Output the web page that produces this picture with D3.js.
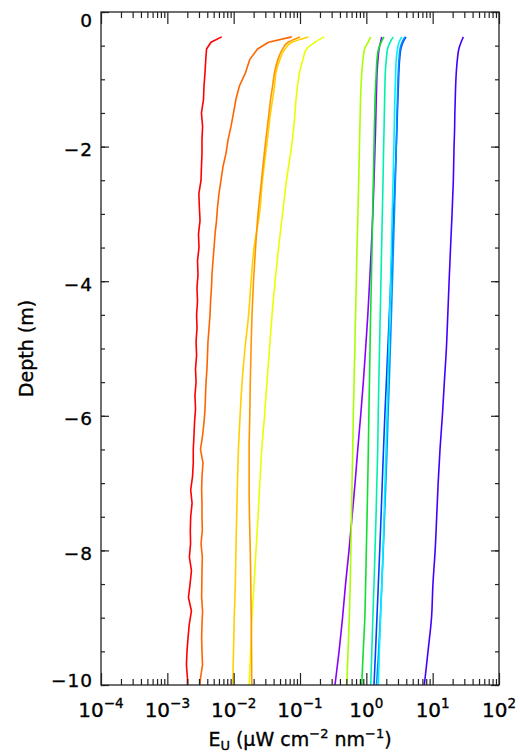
<!DOCTYPE html>
<html>
<head>
<meta charset="utf-8">
<script src="https://cdn.jsdelivr.net/npm/d3@7"></script>
<style>
  body { margin: 0; background: #fff; }
  svg text { font-family: "DejaVu Sans", sans-serif; fill: #000; stroke: #000; stroke-width: 0.35px; }
</style>
</head>
<body>
<div id="chart"></div>
<script>
// Depth grids (m)
const depthFine = [-0.37, -0.45, -0.55, -0.7, -0.9, -1.1, -1.3, -1.5, -1.7, -1.9,
  -2.1, -2.3, -2.5, -2.7, -2.9, -3.1, -3.3, -3.5, -3.7, -3.9,
  -4.1, -4.3, -4.5, -4.7, -4.9, -5.1, -5.3, -5.5, -5.7, -5.9,
  -6.1, -6.3, -6.5, -6.7, -6.9, -7.1, -7.3, -7.5, -7.7, -7.9,
  -8.1, -8.3, -8.5, -8.7, -8.9, -9.1, -9.3, -9.5, -9.7, -9.9, -10];
const depthCoarse = [-0.37, -0.45, -0.55, -0.7, -0.9, -1.1, -1.3, -1.5, -1.75, -2,
  -2.5, -3, -3.5, -4, -4.5, -5, -5.5, -6, -6.5, -7, -7.5, -8, -8.5, -9, -9.5, -10];

// Upwelling irradiance Eu per channel (uW cm-2 nm-1)
const euRed = [0.0066, 0.00455, 0.0039, 0.0038, 0.0037, 0.00357, 0.00351, 0.00327, 0.0034, 0.00333,
  0.00333, 0.00327, 0.00322, 0.00299, 0.00304, 0.00311, 0.00295, 0.003, 0.00285, 0.0029,
  0.0028, 0.00285, 0.00276, 0.0028, 0.00271, 0.00276, 0.00266, 0.00271, 0.00261, 0.00266,
  0.00257, 0.00252, 0.00246, 0.00246, 0.0024, 0.00225, 0.00236, 0.00225, 0.00222, 0.00224,
  0.00215, 0.00231, 0.0022, 0.00208, 0.00231, 0.00214, 0.00205, 0.00198, 0.00194, 0.00201, 0.00201];
const euOrangeRed = [0.075, 0.0335, 0.0229, 0.0176, 0.0151, 0.0122, 0.0108, 0.00995, 0.00912, 0.00822,
  0.00766, 0.0069, 0.00644, 0.00601, 0.00571, 0.00551, 0.00524, 0.00506, 0.00488, 0.00471,
  0.00463, 0.00448, 0.0044, 0.00425, 0.0041, 0.00403, 0.00396, 0.00383, 0.00376, 0.0037,
  0.00357, 0.00339, 0.00316, 0.00345, 0.00333, 0.00329, 0.00333, 0.00333, 0.00337, 0.00322,
  0.00337, 0.00333, 0.00331, 0.00329, 0.0034, 0.00333, 0.00329, 0.00333, 0.00339, 0.00316, 0.00311];
const euOrange = [0.1, 0.066, 0.0546, 0.0467, 0.0413, 0.0386, 0.036, 0.0341, 0.0318, 0.0297,
  0.0263, 0.0233, 0.0214, 0.0199, 0.0189, 0.0183, 0.0178, 0.0175, 0.0171, 0.0171,
  0.0173, 0.0178, 0.0181, 0.0184, 0.0186, 0.0187];
const euGold = [0.1336, 0.0758, 0.0595, 0.05, 0.0435, 0.0413, 0.0386, 0.036, 0.0336, 0.0313,
  0.0272, 0.0245, 0.0203, 0.0183, 0.0168, 0.0148, 0.0134, 0.0125, 0.0118, 0.0114,
  0.0111, 0.0108, 0.0106, 0.0102, 0.00995, 0.00968];
const euYellow = [0.23, 0.168, 0.125, 0.111, 0.0984, 0.0918, 0.0871, 0.0841, 0.0798, 0.0745,
  0.0626, 0.0546, 0.0475, 0.0421, 0.0379, 0.0347, 0.0318, 0.0292, 0.0265, 0.0248,
  0.0233, 0.0217, 0.0203, 0.0189, 0.018, 0.0171];
const euYellowGreen = [1.165, 1.061, 0.94, 0.892, 0.855, 0.832, 0.818, 0.809, 0.798, 0.787,
  0.768, 0.747, 0.724, 0.707, 0.688, 0.671, 0.653, 0.637, 0.624, 0.609,
  0.598, 0.584, 0.572, 0.554, 0.53, 0.507];
const euGreen = [1.849, 1.666, 1.527, 1.45, 1.41, 1.38, 1.352, 1.34, 1.32, 1.306,
  1.275, 1.245, 1.219, 1.19, 1.161, 1.137, 1.114, 1.091, 1.072, 1.05,
  1.025, 1.0, 0.976, 0.949, 0.898, 0.853];
const euPurple = [1.706, 1.637, 1.554, 1.5, 1.45, 1.43, 1.41, 1.396, 1.376, 1.352,
  1.306, 1.253, 1.19, 1.121, 1.053, 0.976, 0.901, 0.821, 0.742, 0.676,
  0.609, 0.548, 0.486, 0.438, 0.388, 0.337];
const euAqua = [2.55, 2.276, 2.088, 2.003, 1.933, 1.907, 1.888, 1.868, 1.849, 1.823,
  1.786, 1.742, 1.7, 1.66, 1.62, 1.58, 1.543, 1.51, 1.485, 1.44,
  1.4, 1.352, 1.306, 1.253, 1.21, 1.165];
const euCyan = [3.42, 3.11, 2.95, 2.83, 2.77, 2.73, 2.69, 2.66, 2.635, 2.6,
  2.53, 2.456, 2.39, 2.316, 2.253, 2.18, 2.125, 2.05, 1.98, 1.914,
  1.849, 1.786, 1.713, 1.637, 1.57, 1.517];
const euAzure = [3.83, 3.45, 3.22, 3.11, 3.03, 2.98, 2.94, 2.9, 2.86, 2.82,
  2.74, 2.65, 2.56, 2.475, 2.39, 2.3, 2.215, 2.125, 2.05, 1.968,
  1.88, 1.798, 1.713, 1.626, 1.532, 1.425];
const euBlue = [3.97, 3.57, 3.31, 3.18, 3.09, 3.04, 2.99, 2.94, 2.89, 2.83,
  2.71, 2.58, 2.456, 2.34, 2.22, 2.11, 2.003, 1.9, 1.816, 1.738,
  1.666, 1.592, 1.517, 1.445, 1.376, 1.306];
const euViolet = [29.0, 26.8, 24.8, 23.6, 22.7, 22.2, 21.9, 21.6, 21.4, 21.0,
  20.5, 19.6, 18.6, 17.7, 16.9, 16.1, 15.0, 14.0, 12.9, 12.1,
  11.5, 10.9, 10.1, 9.61, 8.51, 7.49];

// Axis ticks
const xMajorTicks = [1e-4, 1e-3, 1e-2, 1e-1, 1e0, 1e1, 1e2];
const xTickExponents = ["\u22124", "\u22123", "\u22122", "\u22121", "0", "1", "2"];
const yMajorTicks = [0, -2, -4, -6, -8, -10];
const yMinorTicks = d3.range(0, -10.01, -0.5);

// Series in drawing order
const series = [
  { values: euPurple, depths: depthCoarse, color: "#8a00ff" },
  { values: euViolet, depths: depthCoarse, color: "#4400ff" },
  { values: euBlue, depths: depthCoarse, color: "#0040ff" },
  { values: euAzure, depths: depthCoarse, color: "#0090ff" },
  { values: euCyan, depths: depthCoarse, color: "#00f0ff" },
  { values: euAqua, depths: depthCoarse, color: "#00f0b0" },
  { values: euGreen, depths: depthCoarse, color: "#10e030" },
  { values: euYellowGreen, depths: depthCoarse, color: "#a8ff00" },
  { values: euYellow, depths: depthCoarse, color: "#e8ff00" },
  { values: euGold, depths: depthCoarse, color: "#ffd000" },
  { values: euOrange, depths: depthCoarse, color: "#ff9600" },
  { values: euOrangeRed, depths: depthFine, color: "#ff6400", fine: true },
  { values: euRed, depths: depthFine, color: "#ff0000", fine: true }
];

const width = 520, height = 752;
const plot = { left: 101, right: 499, top: 12, bottom: 685 };

const svg = d3.select("#chart").append("svg")
  .attr("width", width)
  .attr("height", height);

const x = d3.scaleLog().domain([1e-4, 1e2]).range([plot.left, plot.right]);
const y = d3.scaleLinear().domain([0, -10]).range([plot.top, plot.bottom]);

// Data lines
series.forEach(s => {
  const pts = s.values.map((v, i) => [v, s.depths[i]]);
  const line = d3.line()
    .x(d => x(d[0]))
    .y(d => y(d[1]))
    .curve(s.fine ? d3.curveLinear : d3.curveMonotoneY);
  svg.append("path")
    .datum(pts)
    .attr("d", line)
    .attr("fill", "none")
    .attr("stroke", s.color)
    .attr("stroke-width", 1.6)
    .attr("stroke-linejoin", "round");
});

// Minor x ticks (2..9 in each decade)
const xMinorTicks = x.ticks().filter(v => xMajorTicks.indexOf(v) < 0);

function styleAxis(g) {
  g.select(".domain").remove();
  g.selectAll(".tick line").attr("stroke", "#222").attr("stroke-width", 1.2);
  g.selectAll(".tick text").remove();
}

svg.append("g").attr("transform", `translate(0,${plot.bottom})`)
  .call(d3.axisBottom(x).tickValues(xMajorTicks).tickSize(-12).tickFormat("")).call(styleAxis);
svg.append("g").attr("transform", `translate(0,${plot.bottom})`)
  .call(d3.axisBottom(x).tickValues(xMinorTicks).tickSize(-6).tickFormat("")).call(styleAxis);
svg.append("g").attr("transform", `translate(0,${plot.top})`)
  .call(d3.axisTop(x).tickValues(xMajorTicks).tickSize(-12).tickFormat("")).call(styleAxis);
svg.append("g").attr("transform", `translate(0,${plot.top})`)
  .call(d3.axisTop(x).tickValues(xMinorTicks).tickSize(-6).tickFormat("")).call(styleAxis);

svg.append("g").attr("transform", `translate(${plot.left},0)`)
  .call(d3.axisLeft(y).tickValues(yMajorTicks).tickSize(-8).tickFormat("")).call(styleAxis);
svg.append("g").attr("transform", `translate(${plot.left},0)`)
  .call(d3.axisLeft(y).tickValues(yMinorTicks).tickSize(-4).tickFormat("")).call(styleAxis);
svg.append("g").attr("transform", `translate(${plot.right},0)`)
  .call(d3.axisRight(y).tickValues(yMajorTicks).tickSize(-8).tickFormat("")).call(styleAxis);
svg.append("g").attr("transform", `translate(${plot.right},0)`)
  .call(d3.axisRight(y).tickValues(yMinorTicks).tickSize(-4).tickFormat("")).call(styleAxis);

// Frame
svg.append("rect")
  .attr("x", plot.left).attr("y", plot.top)
  .attr("width", plot.right - plot.left).attr("height", plot.bottom - plot.top)
  .attr("fill", "none").attr("stroke", "#222").attr("stroke-width", 1.3);

// Y tick labels
svg.selectAll(".ylab").data(yMajorTicks).enter().append("text")
  .attr("class", "ylab")
  .attr("x", plot.left - 8)
  .attr("y", d => Math.min(Math.max(y(d) + 3, 20), 680))
  .attr("dy", "0.36em")
  .attr("text-anchor", "end")
  .style("font-size", "18.5px")
  .style("letter-spacing", "1px")
  .text(d => d === 0 ? "0" : "\u2212" + Math.abs(d));

// X tick labels 10^n
const xl = svg.selectAll(".xlab").data(xMajorTicks).enter().append("text")
  .attr("class", "xlab")
  .attr("x", d => x(d))
  .attr("y", 717)
  .attr("text-anchor", "middle")
  .style("font-size", "20px");
xl.append("tspan").text("10");
xl.append("tspan").attr("dy", -9).style("font-size", "13.5px").text((d, i) => xTickExponents[i]);

// X axis title
const xt = svg.append("text")
  .attr("x", (plot.left + plot.right) / 2)
  .attr("y", 746)
  .attr("text-anchor", "middle")
  .style("font-size", "19px");
xt.append("tspan").text("E");
xt.append("tspan").attr("dy", 4).style("font-size", "13px").text("U");
xt.append("tspan").attr("dy", -4).text(" (\u03bcW cm");
xt.append("tspan").attr("dy", -8).style("font-size", "13px").text("\u22122");
xt.append("tspan").attr("dy", 8).text(" nm");
xt.append("tspan").attr("dy", -8).style("font-size", "13px").text("\u22121");
xt.append("tspan").attr("dy", 8).text(")");

// Y axis title
svg.append("text")
  .attr("transform", `translate(33,${(plot.top + plot.bottom) / 2}) rotate(-90)`)
  .attr("text-anchor", "middle")
  .style("font-size", "19px")
  .text("Depth (m)");
</script>
</body>
</html>
